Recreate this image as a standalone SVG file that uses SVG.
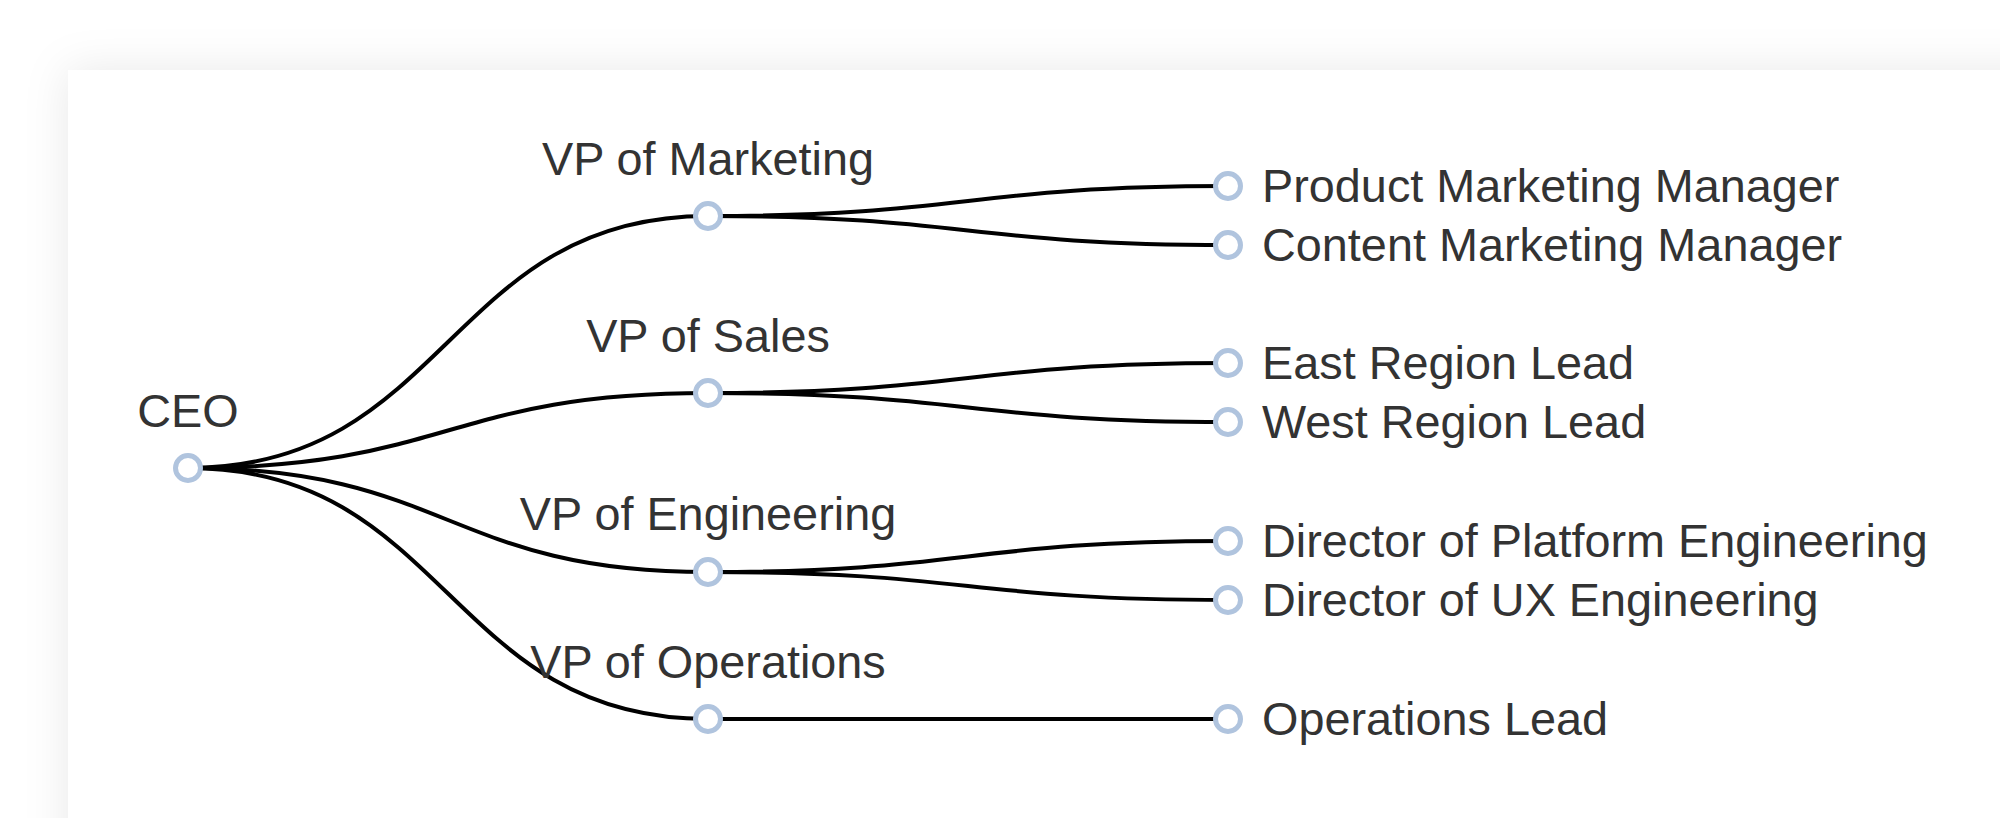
<svg xmlns="http://www.w3.org/2000/svg" width="2000" height="818" viewBox="0 0 2000 818">
<style>
.link{fill:none;stroke:#000;stroke-width:4}
.node circle{fill:#fff;stroke:#b0c4de;stroke-width:5}
.node text{font-family:"Liberation Sans",Arial,sans-serif;font-size:46.8px;fill:#333}
.up{text-anchor:middle}
</style>
<defs>
<filter id="sh" x="-10%" y="-20%" width="120%" height="140%">
<feDropShadow dx="0" dy="0" stdDeviation="22" flood-color="#000" flood-opacity="0.09"/>
</filter>
</defs>
<rect x="0" y="0" width="2000" height="818" fill="#fff"/>
<rect x="68" y="70" width="2100" height="900" rx="0" fill="#fff" filter="url(#sh)"/>
<g id="links">
<path class="link" d="M188,468C448,468 448,216 708,216"/>
<path class="link" d="M188,468C448,468 448,393 708,393"/>
<path class="link" d="M188,468C448,468 448,572 708,572"/>
<path class="link" d="M188,468C448,468 448,719 708,719"/>
<path class="link" d="M708,216C968,216 968,186 1228,186"/>
<path class="link" d="M708,216C968,216 968,245 1228,245"/>
<path class="link" d="M708,393C968,393 968,363 1228,363"/>
<path class="link" d="M708,393C968,393 968,422 1228,422"/>
<path class="link" d="M708,572C968,572 968,541 1228,541"/>
<path class="link" d="M708,572C968,572 968,600 1228,600"/>
<path class="link" d="M708,719L1228,719"/>
</g>
<g id="n-ceo" class="node"><circle cx="188" cy="468" r="12.5"/><text class="up" x="188" y="427">CEO</text></g>
<g id="n-vpm" class="node"><circle cx="708" cy="216" r="12.5"/><text class="up" x="708" y="175">VP of Marketing</text></g>
<g id="n-vps" class="node"><circle cx="708" cy="393" r="12.5"/><text class="up" x="708" y="352">VP of Sales</text></g>
<g id="n-vpe" class="node"><circle cx="708" cy="572" r="12.5"/><text class="up" x="708" y="530">VP of Engineering</text></g>
<g id="n-vpo" class="node"><circle cx="708" cy="719" r="12.5"/><text class="up" x="708" y="678">VP of Operations</text></g>
<g id="n-pmm" class="node"><circle cx="1228" cy="186" r="12.5"/><text x="1262" y="202">Product Marketing Manager</text></g>
<g id="n-cmm" class="node"><circle cx="1228" cy="245" r="12.5"/><text x="1262" y="261">Content Marketing Manager</text></g>
<g id="n-erl" class="node"><circle cx="1228" cy="363" r="12.5"/><text x="1262" y="379">East Region Lead</text></g>
<g id="n-wrl" class="node"><circle cx="1228" cy="422" r="12.5"/><text x="1262" y="438">West Region Lead</text></g>
<g id="n-dpe" class="node"><circle cx="1228" cy="541" r="12.5"/><text x="1262" y="557">Director of Platform Engineering</text></g>
<g id="n-due" class="node"><circle cx="1228" cy="600" r="12.5"/><text x="1262" y="616">Director of UX Engineering</text></g>
<g id="n-opl" class="node"><circle cx="1228" cy="719" r="12.5"/><text x="1262" y="735">Operations Lead</text></g>
</svg>
